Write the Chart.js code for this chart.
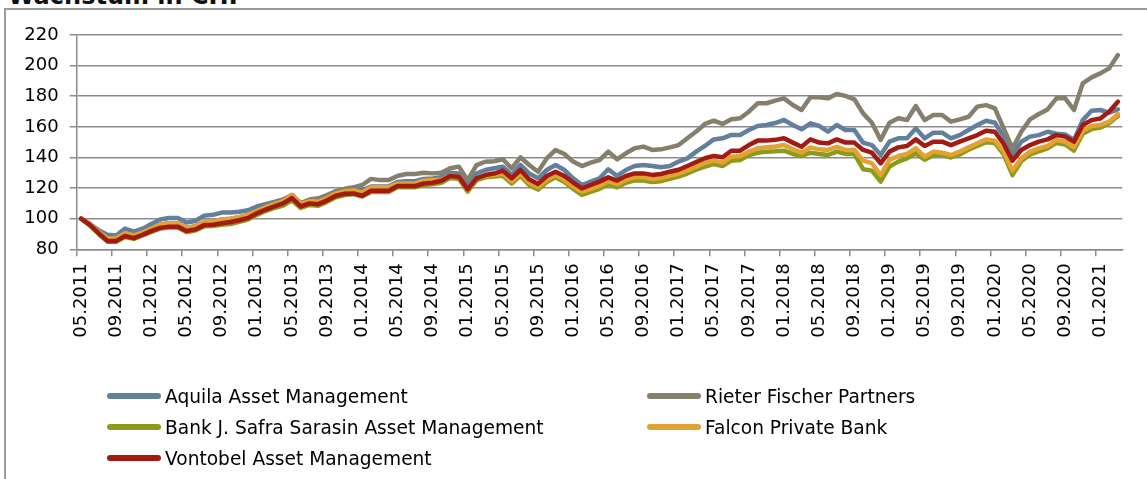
<!DOCTYPE html>
<html>
<head>
<meta charset="utf-8">
<script src="https://cdn.jsdelivr.net/npm/chart.js@4/dist/chart.umd.min.js"></script>
<style>
  html, body { margin:0; padding:0; background:#fff; }
  #wrap { position:relative; width:1147px; height:479px; overflow:hidden; background:#fff; font-family:"DejaVu Sans", Verdana, sans-serif; }
  #title { position:absolute; left:8px; top:-16px; font-weight:bold; font-size:24px; line-height:24px; color:#111; white-space:nowrap; }
  #frame { position:absolute; left:4px; top:8px; width:1300px; height:600px; border-left:2px solid #9a9a9a; border-top:2px solid #9a9a9a; }
  #c { position:absolute; left:0; top:0; }
  .lg { position:absolute; height:20px; display:flex; align-items:center; font-size:18.6px; color:#000; white-space:nowrap; }
  .lg .sw { width:54px; height:6px; border-radius:3px; margin-right:4px; }
</style>
</head>
<body>
<div id="wrap">
  <div id="title">Wachstum in CHF</div>
  <div id="frame"></div>
  <canvas id="c" width="1147" height="479"></canvas>
  <div id="legend"></div>
</div>
<script>
// Categories (monthly, 05.2011 – 03.2021)
const categories = [
  "05.2011","06.2011","07.2011","08.2011","09.2011","10.2011","11.2011","12.2011",
  "01.2012","02.2012","03.2012","04.2012","05.2012","06.2012","07.2012","08.2012","09.2012","10.2012","11.2012","12.2012",
  "01.2013","02.2013","03.2013","04.2013","05.2013","06.2013","07.2013","08.2013","09.2013","10.2013","11.2013","12.2013",
  "01.2014","02.2014","03.2014","04.2014","05.2014","06.2014","07.2014","08.2014","09.2014","10.2014","11.2014","12.2014",
  "01.2015","02.2015","03.2015","04.2015","05.2015","06.2015","07.2015","08.2015","09.2015","10.2015","11.2015","12.2015",
  "01.2016","02.2016","03.2016","04.2016","05.2016","06.2016","07.2016","08.2016","09.2016","10.2016","11.2016","12.2016",
  "01.2017","02.2017","03.2017","04.2017","05.2017","06.2017","07.2017","08.2017","09.2017","10.2017","11.2017","12.2017",
  "01.2018","02.2018","03.2018","04.2018","05.2018","06.2018","07.2018","08.2018","09.2018","10.2018","11.2018","12.2018",
  "01.2019","02.2019","03.2019","04.2019","05.2019","06.2019","07.2019","08.2019","09.2019","10.2019","11.2019","12.2019",
  "01.2020","02.2020","03.2020","04.2020","05.2020","06.2020","07.2020","08.2020","09.2020","10.2020","11.2020","12.2020",
  "01.2021","02.2021","03.2021"
];

const seriesNames = [
  "Aquila Asset Management",
  "Rieter Fischer Partners",
  "Bank J. Safra Sarasin Asset Management",
  "Falcon Private Bank",
  "Vontobel Asset Management"
];
const seriesColors = ["#637f9e", "#867f6c", "#8d9a1a", "#e3a333", "#a31a12"];

const aquila = [
  100, 96.5, 92.5, 89.5, 89, 93.5, 91.5, 93.5, 96.5, 99.5,
  100.5, 100.5, 97.5, 98.5, 102, 102.5, 104, 104, 104.5, 105.5,
  108, 109.5, 111, 112.5, 115.5, 110, 112, 111.5, 114, 117,
  118.5, 119.5, 118.5, 121, 121, 121, 124, 124.5, 124.5, 126,
  126.3, 127, 130, 129.5, 121.5, 129.5, 131.8, 132.9, 134, 128.6,
  135.1, 129.6, 126.4, 131.8, 135.1, 131.8, 126.4, 122, 124.2, 126.4,
  132.3, 127.9, 131.8, 134.4, 135.1, 134.4, 133.6, 134.4, 137.3, 139.4,
  143.8, 147.5, 151.8, 152.5, 154.7, 154.7, 157.9, 160.6, 161.2, 162.5,
  164.5, 161.2, 158.4, 162.3, 160.6, 156.9, 161.2, 157.9, 157.9, 149.7,
  148.1, 141.6, 150.3, 152.5, 152.5, 159, 152.5, 156.2, 156.2, 152.5,
  154.6, 157.9, 161.2, 164, 162.7, 153.6, 141.6, 150.3, 153.6, 154.6,
  156.8, 155.5, 155, 151.4, 164.4, 170.5, 171, 169.2, 171.4
];
const rieter = [
  100, 96.5, 91.5, 87, 87, 90.5, 89, 91, 93.5, 96,
  97, 97, 94, 95, 98, 98, 99.5, 100, 101, 102.5,
  105.5, 108, 110, 112, 115.5, 110, 112.5, 113.3, 115.4, 118,
  119.5, 120.5, 122, 126, 125.2, 125.2, 127.9, 129.2, 129.2, 130,
  129.6, 130, 132.9, 134, 125.2, 135, 137.2, 137.5, 138.8, 132.9,
  140.1, 135.1, 130.7, 139.4, 144.9, 142.3, 137.3, 134.4, 136.6, 138.3,
  143.8, 138.8, 142.7, 146, 147.1, 144.9, 145.3, 146.6, 148.1, 152.5,
  156.9, 161.9, 164, 161.9, 164.9, 165.6, 169.9, 175.4, 175.4, 177.1,
  178.6, 174.3, 171, 179.3, 179.3, 178.6, 181.5, 180.2, 178, 168.8,
  162.7, 151.4, 162.7, 165.6, 164.5, 173.6, 164.4, 167.7, 167.7, 163.4,
  164.9, 166.6, 173.2, 174.2, 172.1, 159, 145.9, 156.8, 164.9, 168.4,
  171.4, 178.6, 178.6, 171, 188.4, 192.3, 194.9, 198.2, 206.9
];
const safraSarasin = [
  100, 95.5, 90, 85, 85, 88, 86.8, 89, 91.3, 93.5,
  94.3, 94.3, 91.3, 92.3, 95, 95.2, 96, 96.5, 98, 99.5,
  102.5, 105, 107, 108.5, 112, 107, 109, 108.5, 111, 114,
  115.5, 116, 114.5, 117.5, 117.5, 117.5, 120.5, 120.5, 120.5, 122,
  122.5, 123.5, 126.5, 126, 117.6, 125, 127, 127.5, 128, 123,
  128, 122, 119, 124, 127, 124, 119.5, 115.5, 117.5, 119.5,
  122.5, 120.5, 123.5, 125, 125, 124, 124.5, 126, 127.5, 129.5,
  132, 134, 135.7, 134.4, 137.9, 138.3, 141.6, 143.1, 143.8, 144,
  144.4, 142.3, 141, 143.1, 142.3, 141.6, 143.8, 142.3, 142.3, 132.3,
  131.4, 124.2, 134, 137.3, 139.4, 142.7, 138.5, 141.5, 141.5, 140,
  142, 145, 147.5, 150, 149.5, 142, 128.5, 137.5, 142, 144,
  146, 149.5, 148.5, 144.5, 155.5, 158.5, 159.5, 162.3, 167.1
];
const falcon = [
  100, 96.5, 91.5, 87, 87, 90.5, 89, 91, 93.5, 96,
  97, 97, 94, 95, 98, 98, 99.5, 100, 101, 102.5,
  105, 107.5, 109.5, 111.5, 115.5, 109.5, 111.5, 111, 113.5, 116.5,
  118, 118.5, 117, 120.5, 120.5, 120.5, 123, 123, 123, 124.8,
  125.2, 125.5, 128, 127.5, 118.5, 126, 128, 128.6, 129.5, 124.5,
  129.5, 123.5, 120.5, 125.5, 128.5, 125.5, 121, 117.7, 119.5, 121.5,
  124.5, 122.5, 125.5, 127, 127, 126, 126.5, 128, 129.5, 131.5,
  134, 136.5, 137.9, 136.6, 140.5, 141, 143.8, 146, 146.6, 147.2,
  148.1, 145.3, 143.1, 146.6, 145.3, 144.9, 147, 144.9, 144.9, 137.9,
  136.2, 128.5, 138.3, 141, 142.3, 146, 140.5, 143.8, 143.1, 141.6,
  143.8, 146.6, 149.2, 151.8, 151, 143.8, 131.4, 139.4, 143.8, 145.9,
  147.5, 151.4, 150.3, 146.6, 157.5, 160.5, 161.2, 163.4, 168.4
];
const vontobel = [
  100, 96, 90.5, 85.5, 85.5, 88.7, 87.3, 89.5, 92, 94,
  94.8, 94.8, 92, 93, 95.8, 96, 97, 97.8, 99, 100.5,
  103.5, 106, 108, 110, 113.5, 108, 110, 109.5, 112, 115,
  116.3, 116.5, 115, 118.3, 118.3, 118.3, 121.3, 121.3, 121.3, 123,
  123.5, 124.8, 127.9, 127.4, 119.1, 126.3, 128.5, 129.5, 131.4, 126.4,
  131.8, 125.7, 122.7, 127.9, 130.7, 127.9, 123.6, 119.8, 122, 124.2,
  127, 124.9, 127.9, 129.6, 129.6, 128.6, 129.2, 130.7, 132, 134.4,
  137, 139.5, 141, 140.1, 144.4, 144.4, 148.1, 151, 151, 151.5,
  152.5, 149.7, 147, 151.8, 149.7, 149.2, 151.8, 149.7, 149.7, 144.9,
  143.1, 136.2, 143.8, 146.6, 147.5, 151.8, 147.5, 150.3, 150.3, 148.1,
  150.3, 152.5, 154.6, 157.5, 156.8, 148.8, 137.9, 144.9, 148.1, 150.3,
  151.8, 154.6, 153.6, 150.3, 161.2, 164.4, 165.5, 169.9, 176.4
];

const yTicks = [80, 100, 120, 140, 160, 180, 200, 220];
const labelEvery = 4;

const seriesData = [aquila, rieter, safraSarasin, falcon, vontobel];
const FONT = '"DejaVu Sans", Verdana, sans-serif';
const GRID = '#8c8c8c';

const datasets = seriesNames.map((name, k) => ({
  label: name,
  data: seriesData[k],
  borderColor: seriesColors[k],
  backgroundColor: seriesColors[k],
  borderWidth: 4.5,
  pointRadius: 0,
  tension: 0,
  borderJoinStyle: 'round',
  borderCapStyle: 'round',
  fill: false,
  order: seriesNames.length - k
}));

new Chart(document.getElementById('c'), {
  type: 'line',
  data: { labels: categories, datasets },
  options: {
    responsive: false,
    animation: false,
    devicePixelRatio: 1,
    layout: { padding: { top: 35, right: 24.7, left: 0, bottom: 0 } },
    plugins: { legend: { display: false }, tooltip: { enabled: false }, title: { display: false } },
    scales: {
      x: {
        type: 'category',
        offset: true,
        grid: {
          offset: true,
          drawOnChartArea: false,
          drawTicks: true,
          tickLength: 7,
          lineWidth: 1.5,
          color: (ctx) => (ctx.index % labelEvery === 0 ? GRID : 'rgba(0,0,0,0)')
        },
        border: { display: true, color: GRID, width: 1.5 },
        ticks: {
          autoSkip: false,
          maxRotation: 90,
          minRotation: 90,
          padding: 7,
          color: '#000',
          font: { family: FONT, size: 18 },
          callback: function (v, i) { return i % labelEvery === 0 ? this.getLabelForValue(v) : ''; }
        },
        afterFit: (s) => { s.height = 479 - 249.3; }
      },
      y: {
        min: yTicks[0],
        max: yTicks[yTicks.length - 1],
        afterBuildTicks: (s) => { s.ticks = yTicks.map(v => ({ value: v })); },
        grid: { color: GRID, lineWidth: 1.5, drawTicks: true, tickLength: 7 },
        border: { display: true, color: GRID, width: 1.5 },
        ticks: { padding: 11, color: '#000', font: { family: FONT, size: 18 } },
        afterFit: (s) => { s.width = 76.7; }
      }
    }
  }
});

// Legend (two columns, built from the series arrays)
const legendPos = [
  { x: 107, y: 386 }, { x: 647, y: 386 },
  { x: 107, y: 417 }, { x: 647, y: 417 },
  { x: 107, y: 448 }
];
const lg = document.getElementById('legend');
seriesNames.forEach((name, k) => {
  const d = document.createElement('div');
  d.className = 'lg';
  d.style.left = legendPos[k].x + 'px';
  d.style.top = legendPos[k].y + 'px';
  const sw = document.createElement('span');
  sw.className = 'sw';
  sw.style.background = seriesColors[k];
  const t = document.createElement('span');
  t.textContent = name;
  d.appendChild(sw); d.appendChild(t);
  lg.appendChild(d);
});
</script>
</body>
</html>
